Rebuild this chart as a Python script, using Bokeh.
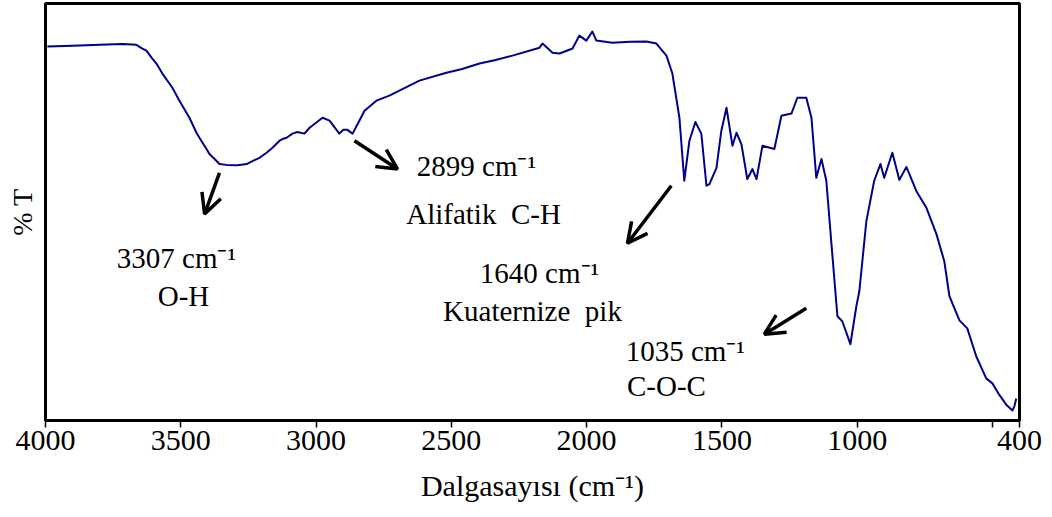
from bokeh.plotting import figure
from bokeh.models import Range1d, FixedTicker, Arrow, OpenHead, ColumnDataSource
from bokeh.core.properties import value
from bokeh.embed import file_html
from bokeh.resources import INLINE

# FTIR spectrum (wavenumber cm-1, %T arbitrary scale)
wavenumber = [3993, 3930, 3874, 3800, 3715, 3664, 3642, 3627, 3608, 3590, 3568, 3531, 3505,
              3468, 3442, 3431, 3405, 3394, 3375, 3357, 3331, 3290, 3257, 3209, 3183, 3161,
              3135, 3124, 3109, 3087, 3069, 3043, 3024, 2976, 2950, 2914, 2899, 2884, 2865,
              2840, 2821, 2777, 2729, 2692, 2618, 2518, 2460, 2396, 2340, 2274, 2174, 2163,
              2126, 2100, 2052, 2027, 2001, 1979, 1964, 1905, 1840, 1779, 1742, 1705, 1683,
              1657, 1639, 1620, 1598, 1576, 1557, 1546, 1520, 1502, 1483, 1461, 1446, 1428,
              1406, 1387, 1372, 1350, 1306, 1280, 1243, 1221, 1188, 1169, 1151, 1132, 1114,
              1095, 1073, 1055, 1025, 1003, 992, 966, 937, 914, 900, 870, 844, 818, 781, 744,
              707, 678, 659, 622, 593, 560, 523, 500, 475, 449, 426, 419, 412]
transmittance = [89.7, 89.8, 89.9, 90.1, 90.3, 90.1, 89.2, 88.7, 87.0, 85.6, 83.2, 79.8, 76.7,
                 72.6, 69.0, 67.8, 65.1, 63.9, 62.7, 61.5, 61.3, 61.2, 61.5, 63.0, 64.2, 65.4,
                 67.1, 67.5, 67.8, 68.8, 69.2, 68.8, 70.2, 72.6, 71.9, 68.8, 69.7, 69.7, 68.8,
                 71.9, 74.3, 76.7, 77.9, 79.1, 81.5, 83.4, 84.3, 85.6, 86.4, 87.5, 89.4, 90.4,
                 88.2, 88.0, 89.2, 92.3, 91.1, 93.3, 91.1, 90.6, 90.8, 90.9, 90.4, 87.5, 83.2,
                 72.6, 57.5, 67.1, 71.6, 68.8, 56.3, 56.7, 60.6, 69.5, 75.0, 65.9, 69.0, 66.3,
                 57.9, 60.3, 57.9, 65.9, 65.1, 73.1, 73.6, 77.4, 77.4, 72.6, 58.2, 62.7, 57.5,
                 42.3, 25.0, 23.8, 18.3, 27.4, 31.0, 47.8, 57.5, 61.5, 58.2, 64.2, 57.7, 60.8,
                 55.0, 51.0, 44.7, 38.2, 29.8, 24.0, 22.1, 15.4, 10.1, 8.9, 6.2, 3.8, 2.4, 3.4,
                 5.3]

x_ticks = [4000, 3500, 3000, 2500, 2000, 1500, 1000, 500, 400]
x_tick_labels = ["4000", "3500", "3000", "2500", "2000", "1500", "1000", "", "400"]

# annotation texts and their anchor positions (data units)
ann_text = ["3307 cm\u207b\u00b9", "O-H",
            "2899 cm\u207b\u00b9", "Alifatik \u00a0C-H",
            "1640 cm\u207b\u00b9", "Kuaternize \u00a0pik",
            "1035 cm\u207b\u00b9", "C-O-C"]
ann_x = [3516, 3490, 2407, 2381, 2174, 2200, 1635, 1705]
ann_y = [38.9, 29.8, 61.1, 49.5, 35.3, 26.2, 16.6, 8.2]

# annotation arrows (start -> end, data units)
arrow_x0 = [3357, 2858, 1687, 1188]
arrow_y0 = [59.4, 67.1, 56.3, 26.9]
arrow_x1 = [3412, 2699, 1849, 1343]
arrow_y1 = [49.5, 60.3, 42.5, 20.7]

FONT = "Liberation Serif"

p = figure(width=1052, height=517, x_range=Range1d(4000, 400), y_range=Range1d(0, 100),
           output_backend="svg", toolbar_location=None,
           min_border_left=45, min_border_right=33, min_border_top=3, min_border_bottom=97)

p.xgrid.visible = False
p.ygrid.visible = False
p.outline_line_color = "black"
p.outline_line_width = 3
p.background_fill_color = "white"
p.border_fill_color = "white"

p.line(wavenumber, transmittance, line_color="#00008B", line_width=2, line_join="round")

src = ColumnDataSource(dict(x=ann_x, y=ann_y, t=ann_text))
p.text(x="x", y="y", text="t", source=src, text_font=value(FONT), text_font_size="29px",
       text_align="center", text_baseline="alphabetic", text_color="black")

asrc = ColumnDataSource(dict(x0=arrow_x0, y0=arrow_y0, x1=arrow_x1, y1=arrow_y1))
p.add_layout(Arrow(end=OpenHead(size=20, line_width=3.5, line_color="black"),
                   x_start="x0", y_start="y0", x_end="x1", y_end="y1", source=asrc,
                   line_width=3.5, line_color="black"))

xa = p.xaxis[0]
xa.ticker = FixedTicker(ticks=x_ticks)
xa.major_label_overrides = {t: l for t, l in zip(x_ticks, x_tick_labels)}
xa.minor_tick_line_color = None
xa.major_tick_in = 0
xa.major_tick_out = 7
xa.major_tick_line_color = "black"
xa.major_tick_line_width = 1.5
xa.axis_line_color = "black"
xa.axis_line_width = 3
xa.major_label_text_font = FONT
xa.major_label_text_font_size = "30px"
xa.major_label_text_color = "black"
xa.major_label_standoff = 3
xa.axis_label = "Dalgasayısı (cm\u207b\u00b9)"
xa.axis_label_text_font = FONT
xa.axis_label_text_font_size = "30px"
xa.axis_label_text_font_style = "normal"
xa.axis_label_text_color = "black"
xa.axis_label_standoff = 16

ya = p.yaxis[0]
ya.ticker = FixedTicker(ticks=[])
ya.axis_line_color = None
ya.major_tick_out = 0
ya.major_tick_in = 0
ya.minor_tick_line_color = None
ya.major_label_standoff = 0
ya.axis_label = "% T"
ya.axis_label_text_font = FONT
ya.axis_label_text_font_size = "28px"
ya.axis_label_text_font_style = "normal"
ya.axis_label_text_color = "black"
ya.axis_label_standoff = 8

open("out.html", "w").write(file_html(p, INLINE))
